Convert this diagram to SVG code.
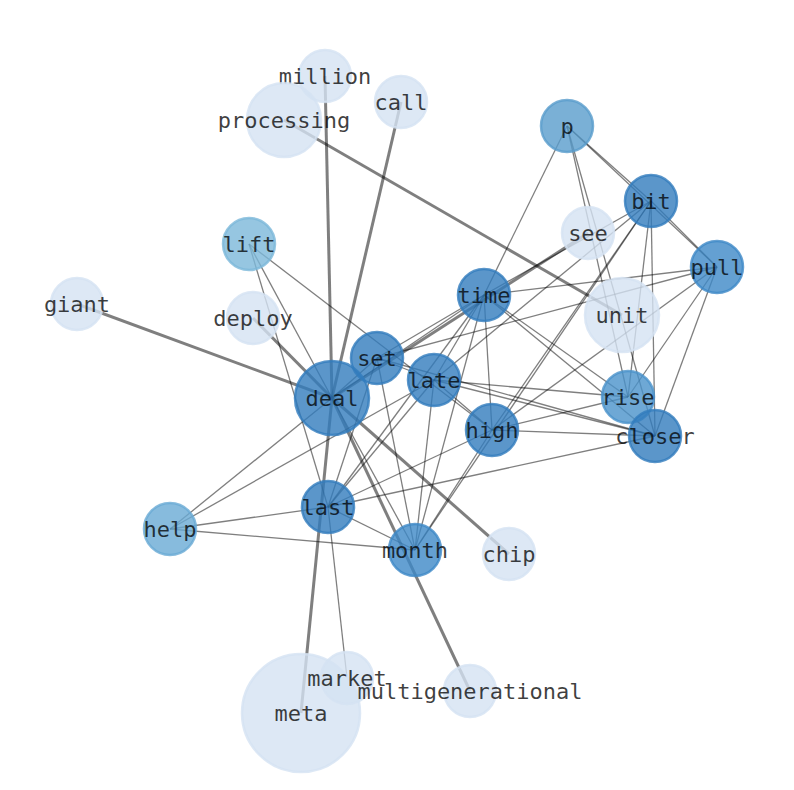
<svg xmlns="http://www.w3.org/2000/svg" width="794" height="790" viewBox="0 0 794 790">
<style>
.e{stroke:#000;stroke-opacity:0.5;stroke-width:1.3;fill:none}
.t{stroke-width:3}
circle{stroke-width:2.5;fill-opacity:0.8;stroke-opacity:0.8}
.l1{fill:#d4e2f2;stroke:#d4e2f2}
.l2{fill:#7cb8da;stroke:#7cb8da}
.l3{fill:#69aad4;stroke:#69aad4}
.l4{fill:#599ccc;stroke:#599ccc}
.l5{fill:#4a92ca;stroke:#4a92ca}
.l6{fill:#3d88c7;stroke:#3d88c7}
.l7{fill:#327cbd;stroke:#327cbd}
text{font-family:"DejaVu Sans Mono","Liberation Mono",monospace;font-size:22px;fill:#000;fill-opacity:0.75;text-anchor:middle;dominant-baseline:central}
</style>
<rect width="794" height="790" fill="#fff"/>
<g id="edges">
<line class="e t" x1="332" y1="398" x2="325" y2="76"/>
<line class="e t" x1="332" y1="398" x2="401" y2="102"/>
<line class="e t" x1="622" y1="315" x2="284" y2="120"/>
<line class="e t" x1="332" y1="398" x2="77" y2="304"/>
<line class="e t" x1="332" y1="398" x2="253" y2="318"/>
<line class="e t" x1="332" y1="398" x2="588" y2="233"/>
<line class="e t" x1="332" y1="398" x2="509" y2="554"/>
<line class="e t" x1="332" y1="398" x2="470" y2="691"/>
<line class="e t" x1="332" y1="398" x2="301" y2="713"/>
<line class="e" x1="567" y1="126" x2="484" y2="295"/>
<line class="e" x1="567" y1="126" x2="628" y2="397"/>
<line class="e" x1="567" y1="126" x2="655" y2="436"/>
<line class="e" x1="567" y1="126" x2="651" y2="201"/>
<line class="e" x1="567" y1="126" x2="717" y2="267"/>
<line class="e" x1="651" y1="201" x2="717" y2="267"/>
<line class="e" x1="651" y1="201" x2="484" y2="295"/>
<line class="e" x1="651" y1="201" x2="434" y2="380"/>
<line class="e" x1="651" y1="201" x2="492" y2="430"/>
<line class="e" x1="651" y1="201" x2="628" y2="397"/>
<line class="e" x1="651" y1="201" x2="655" y2="436"/>
<line class="e" x1="651" y1="201" x2="415" y2="550"/>
<line class="e" x1="717" y1="267" x2="484" y2="295"/>
<line class="e" x1="717" y1="267" x2="377" y2="358"/>
<line class="e" x1="717" y1="267" x2="628" y2="397"/>
<line class="e" x1="717" y1="267" x2="655" y2="436"/>
<line class="e" x1="717" y1="267" x2="492" y2="430"/>
<line class="e" x1="249" y1="244" x2="492" y2="430"/>
<line class="e" x1="249" y1="244" x2="332" y2="398"/>
<line class="e" x1="249" y1="244" x2="328" y2="507"/>
<line class="e" x1="170" y1="529" x2="332" y2="398"/>
<line class="e" x1="170" y1="529" x2="434" y2="380"/>
<line class="e" x1="170" y1="529" x2="328" y2="507"/>
<line class="e" x1="170" y1="529" x2="415" y2="550"/>
<line class="e" x1="328" y1="507" x2="655" y2="436"/>
<line class="e" x1="328" y1="507" x2="492" y2="430"/>
<line class="e" x1="328" y1="507" x2="434" y2="380"/>
<line class="e" x1="328" y1="507" x2="484" y2="295"/>
<line class="e" x1="328" y1="507" x2="377" y2="358"/>
<line class="e" x1="328" y1="507" x2="415" y2="550"/>
<line class="e" x1="328" y1="507" x2="347" y2="678"/>
<line class="e" x1="415" y1="550" x2="377" y2="358"/>
<line class="e" x1="415" y1="550" x2="434" y2="380"/>
<line class="e" x1="415" y1="550" x2="484" y2="295"/>
<line class="e" x1="415" y1="550" x2="492" y2="430"/>
<line class="e" x1="415" y1="550" x2="332" y2="398"/>
<line class="e" x1="484" y1="295" x2="377" y2="358"/>
<line class="e" x1="484" y1="295" x2="434" y2="380"/>
<line class="e" x1="484" y1="295" x2="492" y2="430"/>
<line class="e" x1="484" y1="295" x2="628" y2="397"/>
<line class="e" x1="484" y1="295" x2="655" y2="436"/>
<line class="e" x1="484" y1="295" x2="332" y2="398"/>
<line class="e" x1="434" y1="380" x2="628" y2="397"/>
<line class="e" x1="434" y1="380" x2="655" y2="436"/>
<line class="e" x1="377" y1="358" x2="655" y2="436"/>
<line class="e" x1="377" y1="358" x2="434" y2="380"/>
<line class="e" x1="377" y1="358" x2="332" y2="398"/>
<line class="e" x1="492" y1="430" x2="628" y2="397"/>
<line class="e" x1="492" y1="430" x2="655" y2="436"/>
<line class="e" x1="492" y1="430" x2="434" y2="380"/>
</g>
<g id="n-meta"><circle class="l1" cx="301" cy="713" r="59"/><text x="301" y="713">meta</text></g>
<g id="n-million"><circle class="l1" cx="325" cy="76" r="26"/><text x="325" y="76">million</text></g>
<g id="n-call"><circle class="l1" cx="401" cy="102" r="26"/><text x="401" y="102">call</text></g>
<g id="n-processing"><circle class="l1" cx="284" cy="120" r="37"/><text x="284" y="120">processing</text></g>
<g id="n-p"><circle class="l4" cx="567" cy="126" r="26"/><text x="567" y="126">p</text></g>
<g id="n-bit"><circle class="l7" cx="651" cy="201" r="26"/><text x="651" y="201">bit</text></g>
<g id="n-see"><circle class="l1" cx="588" cy="233" r="26"/><text x="588" y="233">see</text></g>
<g id="n-lift"><circle class="l2" cx="249" cy="244" r="26"/><text x="249" y="244">lift</text></g>
<g id="n-pull"><circle class="l6" cx="717" cy="267" r="26"/><text x="717" y="267">pull</text></g>
<g id="n-time"><circle class="l7" cx="484" cy="295" r="26"/><text x="484" y="295">time</text></g>
<g id="n-giant"><circle class="l1" cx="77" cy="304" r="26"/><text x="77" y="304">giant</text></g>
<g id="n-deploy"><circle class="l1" cx="253" cy="318" r="26"/><text x="253" y="318">deploy</text></g>
<g id="n-unit"><circle class="l1" cx="622" cy="315" r="37"/><text x="622" y="315">unit</text></g>
<g id="n-set"><circle class="l7" cx="377" cy="358" r="26"/><text x="377" y="358">set</text></g>
<g id="n-late"><circle class="l7" cx="434" cy="380" r="26"/><text x="434" y="380">late</text></g>
<g id="n-deal"><circle class="l7" cx="332" cy="398" r="37"/><text x="332" y="398">deal</text></g>
<g id="n-rise"><circle class="l5" cx="628" cy="397" r="26"/><text x="628" y="397">rise</text></g>
<g id="n-high"><circle class="l7" cx="492" cy="430" r="26"/><text x="492" y="430">high</text></g>
<g id="n-closer"><circle class="l7" cx="655" cy="436" r="26"/><text x="655" y="436">closer</text></g>
<g id="n-last"><circle class="l7" cx="328" cy="507" r="26"/><text x="328" y="507">last</text></g>
<g id="n-help"><circle class="l3" cx="170" cy="529" r="26"/><text x="170" y="529">help</text></g>
<g id="n-month"><circle class="l6" cx="415" cy="550" r="26"/><text x="415" y="550">month</text></g>
<g id="n-chip"><circle class="l1" cx="509" cy="554" r="26"/><text x="509" y="554">chip</text></g>
<g id="n-market"><circle class="l1" cx="347" cy="678" r="26"/><text x="347" y="678">market</text></g>
<g id="n-multigenerational"><circle class="l1" cx="470" cy="691" r="26"/><text x="470" y="691">multigenerational</text></g>
</svg>
